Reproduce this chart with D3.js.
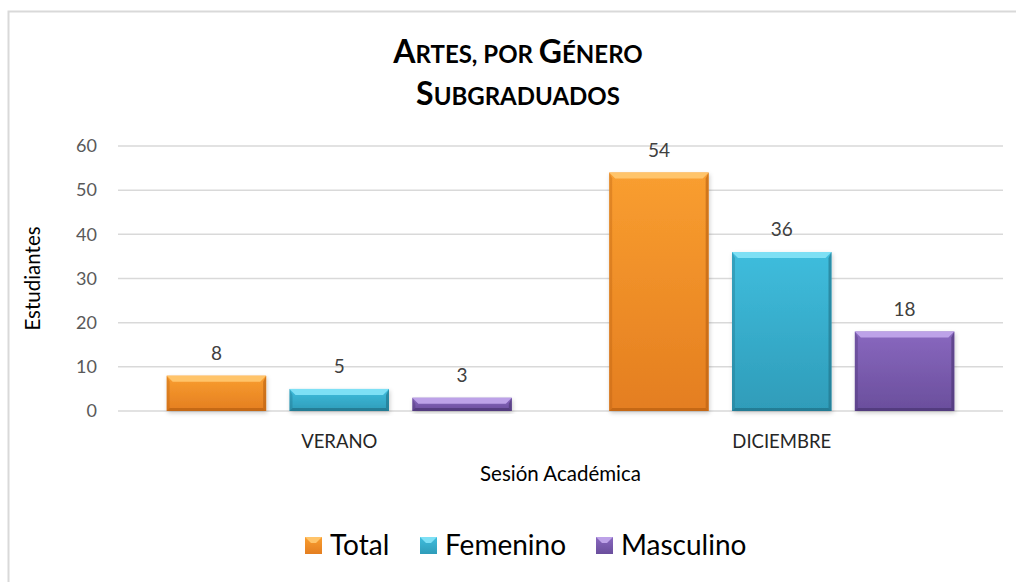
<!DOCTYPE html>
<html>
<head>
<meta charset="utf-8">
<script src="https://cdn.jsdelivr.net/npm/d3@7"></script>
<style>
  html, body { margin: 0; padding: 0; background: #fff; overflow: hidden; }
  svg { display: block; font-family: Lato, "Open Sans", sans-serif; }
</style>
</head>
<body>
<svg id="chart" width="1016" height="582"></svg>
<script>
const categories = ['VERANO', 'DICIEMBRE'];
const seriesNames = ['Total', 'Femenino', 'Masculino'];
const totalValues = [8, 54];
const femeninoValues = [5, 36];
const masculinoValues = [3, 18];
const yTicks = [0, 10, 20, 30, 40, 50, 60];

const values = { Total: totalValues, Femenino: femeninoValues, Masculino: masculinoValues };

// colours per series
const palette = {
  Total:     { hi: '#f99e30', lo: '#e47e20', dark: '#b85f10', top: '#ffc46a' },
  Femenino:  { hi: '#3fbddd', lo: '#2f9cb9', dark: '#1f6f86', top: '#7ee0f5' },
  Masculino: { hi: '#8968bf', lo: '#6a4e9c', dark: '#4a3472', top: '#bda2e8' }
};

const svg = d3.select('#chart');
const margin = { top: 146, left: 118, right: 1003, bottom: 411 };

// outer border
svg.append('rect').attr('x', 8.5).attr('y', 11.5).attr('width', 1100).attr('height', 700)
  .attr('fill', 'none').attr('stroke', '#d9d9d9').attr('stroke-width', 2);

const defs = svg.append('defs');
seriesNames.forEach(s => {
  const c = palette[s];
  const g = defs.append('linearGradient').attr('id', 'grad_' + s).attr('x1', 0).attr('y1', 0).attr('x2', 0).attr('y2', 1);
  g.append('stop').attr('offset', '0%').attr('stop-color', c.hi);
  g.append('stop').attr('offset', '100%').attr('stop-color', c.lo);
});
const shadow = defs.append('filter').attr('id', 'shadow').attr('x', '-10%').attr('y', '-10%').attr('width', '130%').attr('height', '130%');
shadow.append('feDropShadow').attr('dx', 1).attr('dy', 2).attr('stdDeviation', 2).attr('flood-color', '#000').attr('flood-opacity', 0.2);

const y = d3.scaleLinear().domain([0, 60]).range([margin.bottom, margin.top]);
const x0 = d3.scaleBand().domain(categories).range([margin.left, margin.right]).paddingInner(0.22).paddingOuter(0.11);
const x1 = d3.scaleBand().domain(seriesNames).range([0, x0.bandwidth()]).paddingInner(0.19);

// gridlines
svg.append('g').selectAll('line').data(yTicks).enter().append('line')
  .attr('x1', margin.left).attr('x2', margin.right)
  .attr('y1', d => y(d)).attr('y2', d => y(d))
  .attr('stroke', '#d9d9d9').attr('stroke-width', 1.5);

// y axis labels
const yAxis = d3.axisLeft(y).tickValues(yTicks).tickSize(0).tickPadding(0);
const yg = svg.append('g').attr('transform', `translate(${margin.left - 21},0)`).call(yAxis);
yg.select('.domain').remove();
yg.selectAll('text').attr('fill', '#595959').style('font-size', '18px').style('font-family', 'Lato, sans-serif');

// x axis labels
const xAxis = d3.axisBottom(x0).tickSize(0).tickPadding(0);
const xg = svg.append('g').attr('transform', `translate(0,${margin.bottom + 24})`).call(xAxis);
xg.select('.domain').remove();
xg.selectAll('text').attr('fill', '#262626').style('font-size', '18.5px').style('font-family', 'Lato, sans-serif');

// bars
const bev = 6;
const groups = svg.append('g').selectAll('g').data(categories).enter().append('g')
  .attr('transform', d => `translate(${x0(d)},0)`);

groups.each(function (cat, ci) {
  const g = d3.select(this);
  seriesNames.forEach(s => {
    const v = values[s][ci];
    const c = palette[s];
    const bx = x1(s), bw = x1.bandwidth();
    const by = y(v), bh = y(0) - y(v);
    const b = Math.min(bev, bh / 2);
    const bar = g.append('g');
    bar.append('rect').attr('x', bx).attr('y', by).attr('width', bw).attr('height', bh)
      .attr('fill', `url(#grad_${s})`).attr('filter', 'url(#shadow)');
    // top bevel
    bar.append('polygon').attr('points', [[bx, by], [bx + bw, by], [bx + bw - b, by + b], [bx + b, by + b]].join(' '))
      .attr('fill', c.top);
    // left / right bevels
    bar.append('polygon').attr('points', [[bx, by], [bx + 3, by + b], [bx + 3, by + bh - 3], [bx, by + bh]].join(' '))
      .attr('fill', c.dark).attr('opacity', 0.35);
    bar.append('polygon').attr('points', [[bx + bw, by], [bx + bw - 3, by + b], [bx + bw - 3, by + bh - 3], [bx + bw, by + bh]].join(' '))
      .attr('fill', c.dark).attr('opacity', 0.6);
    // bottom bevel
    bar.append('polygon').attr('points', [[bx, by + bh], [bx + 3, by + bh - 3], [bx + bw - 3, by + bh - 3], [bx + bw, by + bh]].join(' '))
      .attr('fill', c.dark).attr('opacity', 0.7);
    // value label
    g.append('text').attr('x', bx + bw / 2).attr('y', by - 16)
      .attr('text-anchor', 'middle').attr('fill', '#404040').style('font-size', '19px')
      .text(v);
  });
});

// title
const title = svg.append('text').attr('text-anchor', 'middle').attr('fill', '#000').style('font-weight', 'bold');
const t1 = title.append('tspan').attr('x', 518).attr('y', 63);
[['A', 32], ['RTES, POR ', 24], ['G', 32], ['ÉNERO', 24]].forEach(([t, fs]) => t1.append('tspan').style('font-size', fs + 'px').text(t));
const t2 = title.append('tspan').attr('x', 518).attr('y', 105);
[['S', 32], ['UBGRADUADOS', 24]].forEach(([t, fs]) => t2.append('tspan').style('font-size', fs + 'px').text(t));

// axis titles
svg.append('text').attr('transform', `translate(40,${(margin.top + margin.bottom) / 2}) rotate(-90)`)
  .attr('text-anchor', 'middle').attr('fill', '#000').style('font-size', '20.5px').text('Estudiantes');
svg.append('text').attr('x', (margin.left + margin.right) / 2).attr('y', 481)
  .attr('text-anchor', 'middle').attr('fill', '#000').style('font-size', '20.5px').text('Sesión Académica');

// legend
const legendX = [305, 420, 596];
const legend = svg.append('g').selectAll('g').data(seriesNames).enter().append('g')
  .attr('transform', (d, i) => `translate(${legendX[i]},537)`);
legend.append('rect').attr('width', 17).attr('height', 17).attr('fill', d => `url(#grad_${d})`);
legend.append('polygon').attr('points', '0,0 17,0 11,6 6,6').attr('fill', d => palette[d].top);
legend.append('text').attr('x', 25).attr('y', 18).attr('fill', '#000').style('font-size', '28px').text(d => d);
</script>
</body>
</html>
